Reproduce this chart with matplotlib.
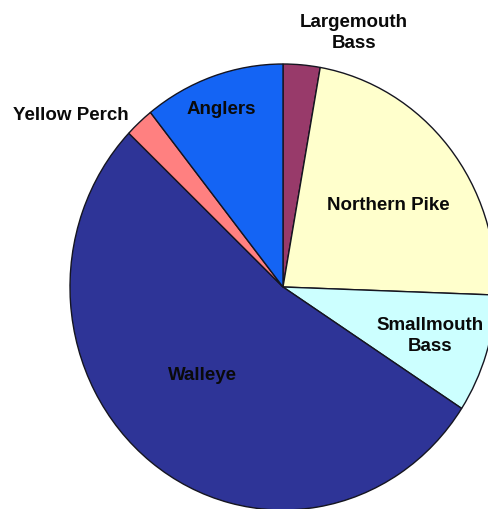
import matplotlib
matplotlib.use("Agg")
import matplotlib.pyplot as plt

# Catch composition, clockwise from 12 o'clock
species = ["Largemouth\nBass", "Northern Pike", "Smallmouth\nBass", "Walleye", "Yellow Perch", "Anglers"]
shares = [2.8, 22.8, 8.6, 53.0, 2.2, 10.7]
colors = ["#983A6A", "#FFFFCC", "#CCFFFF", "#2E3497", "#FF8080", "#1464F4"]

# label positions in pixels (x, y from top-left)
label_px = [(354, 33), (388, 206), (430, 336), (202, 376), (71, 116), (221, 109)]

W, H = 489, 510
fig = plt.figure(figsize=(W / 100, H / 100), dpi=100)
ax = fig.add_axes([0, 0, 1, 1])

wedges, _ = ax.pie(
    shares,
    colors=colors,
    startangle=90,
    counterclock=False,
    radius=1.0,
    center=(0, 0),
    wedgeprops=dict(edgecolor="#151520", linewidth=1.0),
)

# slightly flattened pie placed like the original layout
cx, cy = 283, 288
rx, ry = 213, 223
ax.set_aspect("auto")
ax.set_xlim(-cx / rx, (W - cx) / rx)
ax.set_ylim(-(H - cy) / ry, cy / ry)
ax.axis("off")

for name, (px, py) in zip(species, label_px):
    fig.text(px / W, 1 - py / H, name, ha="center", va="center",
             family=["Liberation Sans", "DejaVu Sans"], fontweight="bold",
             fontsize=13.5, color="#0a0a0a", linespacing=1.32)

fig.savefig("out.png", dpi=100, facecolor="white")
